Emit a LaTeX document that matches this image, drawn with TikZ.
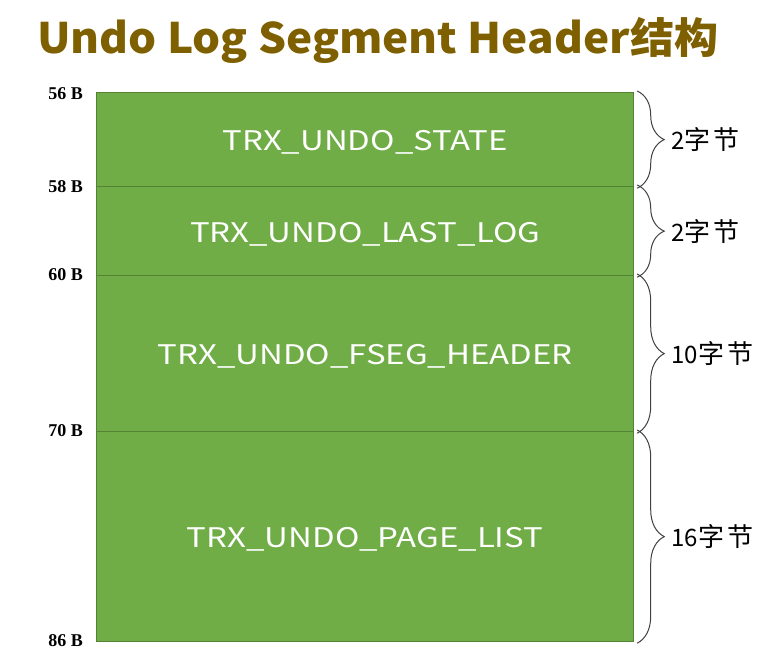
\documentclass[tikz,border=0pt]{standalone}
\usepackage{fontspec}
\usetikzlibrary{decorations.pathreplacing}
\setmainfont{Liberation Serif}
\newfontfamily\cjk{Noto Sans CJK SC}
\definecolor{titlebrown}{HTML}{7F6000}
\definecolor{boxgreen}{HTML}{70AD47}
\definecolor{boxline}{HTML}{548235}
\definecolor{bracegray}{HTML}{404040}
\newcommand{\rowtxt}[1]{\raisebox{-3pt}[\height][\depth]{\scalebox{1.22}[1]{#1}}}
\newcommand{\bytes}[1]{#1{\fontsize{26}{28}\selectfont 字\hspace{3pt}节}}
\tikzset{
  rowbox/.style={draw=boxline, line width=1.2pt, fill=boxgreen, text=white,
    font=\cjk\fontsize{27}{30}\selectfont, minimum width=537pt, inner sep=0pt,
    anchor=north west},
  offs/.style={font=\bfseries\fontsize{18}{20}\selectfont, anchor=east, inner sep=0pt},
  bracestyle/.style={draw=bracegray, line width=1pt,
    decorate, decoration={brace, amplitude=27pt}},
  sizelbl/.style={font=\cjk\fontsize{24}{26}\selectfont, anchor=west, inner sep=0pt}
}
\begin{document}
\begin{tikzpicture}[x=1pt,y=-1pt]
\useasboundingbox (0,0) rectangle (784,652);
\node[anchor=base west, inner sep=0pt, text=titlebrown, font=\cjk\bfseries\fontsize{42}{46}\selectfont] (title) at (37,54) {\scalebox{1.05}[1]{Undo Log Segment Header结构}};

\node[rowbox, minimum height=94pt] (r1) at (96,92) {\rowtxt{TRX\_UNDO\_STATE}};
\node[rowbox, minimum height=89pt] (r2) at (96,186) {\rowtxt{TRX\_UNDO\_LAST\_LOG}};
\node[rowbox, minimum height=156pt] (r3) at (96,275) {\rowtxt{TRX\_UNDO\_FSEG\_HEADER}};
\node[rowbox, minimum height=210pt] (r4) at (96,431) {\rowtxt{TRX\_UNDO\_PAGE\_LIST}};

\node[offs] (o1) at (83,94) {56 B};
\node[offs] (o2) at (83,187) {58 B};
\node[offs] (o3) at (83,275) {60 B};
\node[offs] (o4) at (83,431) {70 B};
\node[offs] (o5) at (83,641) {86 B};

\draw[bracestyle] ([shift={(3pt,1pt)}]r1.north east) -- ([shift={(3pt,-1pt)}]r1.south east);
\draw[bracestyle] ([shift={(3pt,1pt)}]r2.north east) -- ([shift={(3pt,-1pt)}]r2.south east);
\draw[bracestyle] ([shift={(3pt,1pt)}]r3.north east) -- ([shift={(3pt,-1pt)}]r3.south east);
\draw[bracestyle] ([shift={(3pt,1pt)}]r4.north east) -- ([shift={(3pt,-1pt)}]r4.south east);

\node[sizelbl] (s1) at ([xshift=37pt]r1.east) {\bytes{2}};
\node[sizelbl] (s2) at ([xshift=37pt]r2.east) {\bytes{2}};
\node[sizelbl] (s3) at ([xshift=37pt]r3.east) {\bytes{10}};
\node[sizelbl] (s4) at ([xshift=37pt]r4.east) {\bytes{16}};
\end{tikzpicture}
\end{document}
